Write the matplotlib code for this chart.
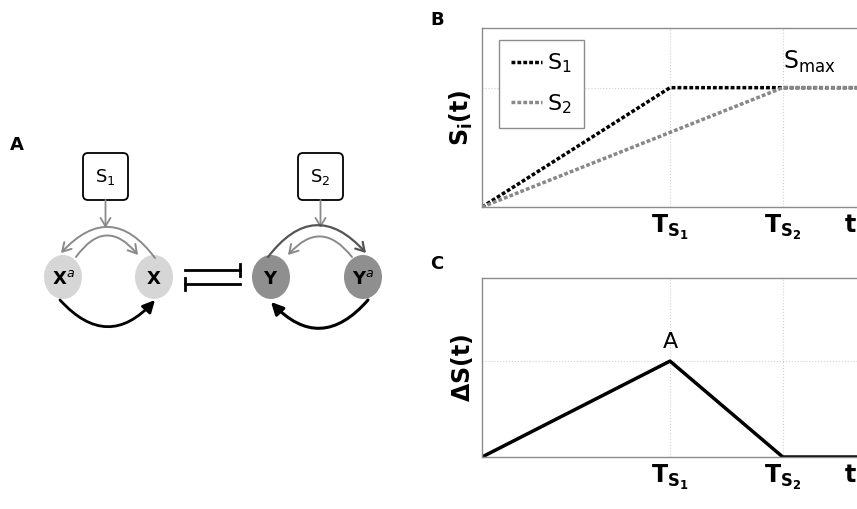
import matplotlib
matplotlib.use("Agg")
import matplotlib.pyplot as plt
from matplotlib.patches import Ellipse, FancyBboxPatch, FancyArrowPatch

plt.rcParams['font.family'] = ['DejaVu Sans']
plt.rcParams['mathtext.default'] = 'regular'

# stimulus timing / values
T_S1 = 1.0
T_S2 = 1.6
t_end = 2.1
S_max = 1.0
t_pts = [0, T_S1, T_S2, t_end]
s1_vals = [0, 1.0, 1.0, 1.0]
s2_vals = [0, 0.625, 1.0, 1.0]
ds_vals = [0, 0.375, 0, 0]
A_val = 0.375
tick_pos = [T_S1, T_S2]
tick_labels = [r'$\mathbf{T_{S_1}}$', r'$\mathbf{T_{S_2}}$']

W, H = 857, 509
fig = plt.figure(figsize=(W / 100, H / 100), dpi=100)

# overlay in pixel units for the network diagram + panel letters
ov = fig.add_axes([0, 0, 1, 1])
ov.set_xlim(0, W)
ov.set_ylim(H, 0)
ov.axis('off')


def arrow(p1, p2, rad, color, lw, style):
    a = FancyArrowPatch(p1, p2, connectionstyle="arc3,rad=%s" % rad,
                        arrowstyle=style, color=color, lw=lw,
                        shrinkA=0, shrinkB=0, mutation_scale=12)
    ov.add_patch(a)


light = '#d6d6d6'
dark = '#8f8f8f'
grey = '#8a8a8a'

# nodes
for cx, col, lab in [(63, light, r'$\mathbf{X}^{\mathit{a}}$'), (154, light, r'$\mathbf{X}$'),
                     (271, dark, r'$\mathbf{Y}$'), (363, dark, r'$\mathbf{Y}^{\mathit{a}}$')]:
    ov.add_patch(Ellipse((cx, 277), 38, 44, color=col, lw=0))
    ov.text(cx, 279, lab, ha='center', va='center', fontsize=13)

# signal boxes
for x0, lab in [(83, r'$S_1$'), (298, r'$S_2$')]:
    ov.add_patch(FancyBboxPatch((x0 + 5, 158), 35, 37, boxstyle="round,pad=5",
                                fc='white', ec='black', lw=1.3))
    ov.text(x0 + 22.5, 177, lab, ha='center', va='center', fontsize=13)
    arrow((x0 + 22.5, 200), (x0 + 22.5, 228), 0, grey, 1.3, '->,head_length=0.5,head_width=0.3')

# X side
arrow((155, 258), (61, 253), 0.6, grey, 1.4, '->,head_length=0.5,head_width=0.3')
arrow((76, 257), (138, 255), -0.65, grey, 1.4, '->,head_length=0.5,head_width=0.3')
arrow((60, 300), (155, 300), 0.55, 'black', 2, '-|>,head_length=0.6,head_width=0.3')
# Y side
arrow((268, 257), (366, 253), -0.6, '#555555', 1.6, '->,head_length=0.5,head_width=0.3')
arrow((352, 257), (288, 255), 0.6, grey, 1.4, '->,head_length=0.5,head_width=0.3')
arrow((368, 300), (271, 302), -0.55, 'black', 2.2, '-|>,head_length=0.6,head_width=0.3')

# mutual inhibition
ov.plot([185, 240], [270, 270], color='black', lw=2)
ov.plot([240, 240], [264, 276], color='black', lw=2)
ov.plot([185, 240], [284, 284], color='black', lw=2)
ov.plot([185, 185], [278, 290], color='black', lw=2)

ov.text(10, 145, 'A', fontsize=13, fontweight='bold', va='center')
ov.text(430, 20, 'B', fontsize=13, fontweight='bold', va='center')
ov.text(430, 264, 'C', fontsize=13, fontweight='bold', va='center')


def setup(ax, ylim, ygrid, ylabel):
    ax.set_xlim(0, t_end)
    ax.set_ylim(*ylim)
    ax.set_xticks(tick_pos)
    ax.set_xticklabels(tick_labels, fontsize=17)
    ax.set_yticks([ygrid])
    ax.set_yticklabels([])
    ax.tick_params(length=0, pad=4)
    ax.grid(True, color='#d0d0d0', ls=':', lw=0.8)
    for sp in ax.spines.values():
        sp.set_color('#8c8c8c')
        sp.set_linewidth(1)
    ax.set_ylabel(ylabel, fontsize=17)
    ax.yaxis.set_label_coords(-0.018, 0.5)
    ax.text(1.96, -0.035, r'$\mathbf{t}$', transform=ax.get_xaxis_transform(),
            fontsize=17, ha='center', va='top', clip_on=False)


axw = 188 * t_end / W
# panel B
axB = fig.add_axes([482 / W, 1 - 207 / H, axw, 179 / H])
setup(axB, (0, 1.5), S_max, r'$\mathbf{S_i(t)}$')
axB.plot(t_pts, s1_vals, color='black', lw=2.5, ls=(0, (1.1, 0.6)), label=r'$S_1$')
axB.plot(t_pts, s2_vals, color='#888888', lw=2.5, ls=(0, (1.1, 0.6)), label=r'$S_2$')
axB.text(T_S2, 1.22, r'$S_{max}$', fontsize=17, ha='left', va='center')
leg = axB.legend(loc='upper left', bbox_to_anchor=(0.043, 0.935), borderaxespad=0,
                 fontsize=16, handlelength=1.4, handletextpad=0.2, borderpad=0.55,
                 labelspacing=0.75, fancybox=False, framealpha=1)
leg.get_frame().set_edgecolor('#8c8c8c')

# panel C
axC = fig.add_axes([482 / W, 1 - 457 / H, axw, 179 / H])
setup(axC, (0, 0.7), A_val, r'$\mathbf{\Delta S(t)}$')
axC.plot(t_pts, ds_vals, color='black', lw=2.5)
axC.text(T_S1, A_val + 0.075, 'A', fontsize=16, ha='center', va='center')

fig.savefig('out.png', dpi=100)
